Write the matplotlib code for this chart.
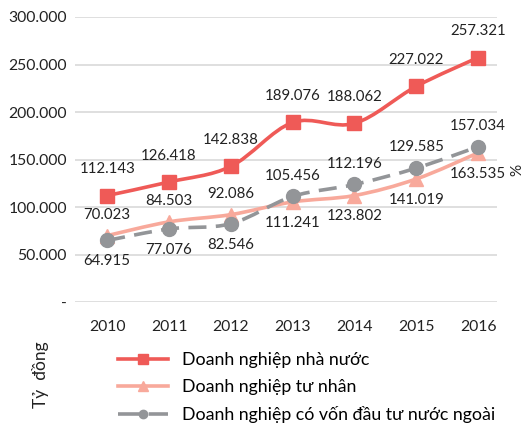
import matplotlib
matplotlib.use('Agg')
import matplotlib.pyplot as plt
from matplotlib.path import Path
from matplotlib.patches import PathPatch
from matplotlib.lines import Line2D

years = ['2010', '2011', '2012', '2013', '2014', '2015', '2016']
state = [112143, 126418, 142838, 189076, 188062, 227022, 257321]
private = [70023, 84503, 92086, 105456, 112196, 129585, 157034]
fdi = [64915, 77076, 82546, 111241, 123802, 141019, 163535]
names = ['Doanh nghiệp nhà nước', 'Doanh nghiệp tư nhân',
         'Doanh nghiệp có vốn đầu tư nước ngoài']

RED = '#EF5A57'
PINK = '#F8A99B'
GRAY = '#939598'

plt.rcParams['font.family'] = ['Lato', 'DejaVu Sans']


def fmt(v):
    return f'{v:,.0f}'.replace(',', '.')


def smooth_path(xs, ys):
    # catmull-rom style smoothing, like excel's "smoothed line"
    pts = list(zip(xs, ys))
    verts = [pts[0]]
    codes = [Path.MOVETO]
    n = len(pts)
    for i in range(n - 1):
        p0 = pts[max(i - 1, 0)]
        p1 = pts[i]
        p2 = pts[i + 1]
        p3 = pts[min(i + 2, n - 1)]
        c1 = (p1[0] + (p2[0] - p0[0]) / 6, p1[1] + (p2[1] - p0[1]) / 6)
        c2 = (p2[0] - (p3[0] - p1[0]) / 6, p2[1] - (p3[1] - p1[1]) / 6)
        verts += [c1, c2, p2]
        codes += [Path.CURVE4] * 3
    return Path(verts, codes)


fig = plt.figure(figsize=(5.25, 4.25), dpi=100)
ax = fig.add_axes([0.143, 0.289, 0.804, 0.671])

x = list(range(len(years)))
dash = (0, (5, 2.6))

series = [
    (private, PINK, '^', 10, '-', 2),
    (fdi, GRAY, 'o', 10, dash, 3),
    (state, RED, 's', 10, '-', 4),
]
for vals, col, mk, ms, ls, z in series:
    ax.add_patch(PathPatch(smooth_path(x, vals), fill=False, edgecolor=col,
                           lw=2.6, linestyle=ls, zorder=z, capstyle='butt'))
    ax.plot(x, vals, linestyle='none', marker=mk, ms=ms, color=col, zorder=z + 0.5)

fs = 10.8
for i in x:
    ax.annotate(fmt(state[i]), (i, state[i]), xytext=(0, 14), textcoords='offset points',
                ha='center', va='bottom', fontsize=fs, color='#222222')
    top = max(private[i], fdi[i])
    low = min(private[i], fdi[i])
    ax.annotate(fmt(private[i]), (i, top), xytext=(0, 10), textcoords='offset points',
                ha='center', va='bottom', fontsize=fs, color='#222222')
    ax.annotate(fmt(fdi[i]), (i, low), xytext=(0, -10), textcoords='offset points',
                ha='center', va='top', fontsize=fs, color='#222222')

ax.set_xlim(-0.52, 6.31)
ax.set_ylim(0, 300000)
ax.set_xticks(x)
ax.set_xticklabels(years)
yt = list(range(0, 300001, 50000))
ax.set_yticks(yt)
ax.set_yticklabels(['-'] + [fmt(v) for v in yt[1:]])
ax.tick_params(axis='both', length=0, labelsize=11.3, colors='#222222')
ax.tick_params(axis='x', pad=13)
ax.tick_params(axis='y', pad=6)
ax.grid(axis='y', color='#D9D9D9', lw=1.2)
ax.set_axisbelow(True)
for s in ax.spines.values():
    s.set_visible(False)

handles = [
    Line2D([], [], color=RED, lw=2.6, marker='s', ms=7),
    Line2D([], [], color=PINK, lw=2.6, marker='^', ms=7),
    Line2D([], [], color=GRAY, lw=2.6, marker='o', ms=6, linestyle=(0, (6, 2.5))),
]
fig.legend(handles, names, loc='upper left', bbox_to_anchor=(0.225, 0.172),
           frameon=False, fontsize=12.8, handlelength=2.8, handletextpad=0.8,
           labelspacing=0.62, borderaxespad=0, borderpad=0)

fig.text(40 / 525, 1 - 375 / 425, 'Tỷ  đồng', rotation=90, ha='center', va='center',
         fontsize=12.5, color='#222222')
fig.text(517 / 525, 1 - 170 / 425, '%', rotation=90, ha='center', va='center',
         fontsize=11, color='#222222')

fig.savefig('out.png', dpi=100)
